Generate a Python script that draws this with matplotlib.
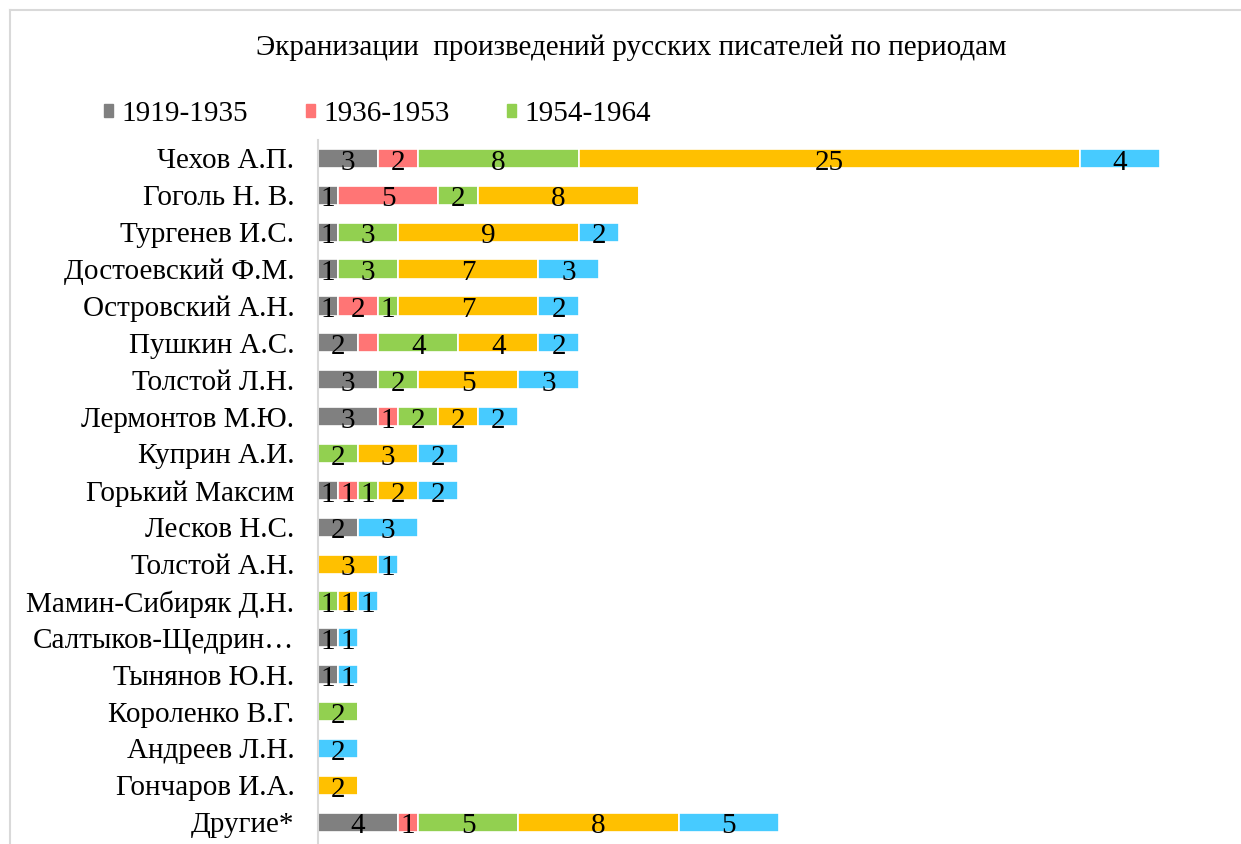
import numpy as np
import matplotlib
matplotlib.use("Agg")
import matplotlib.pyplot as plt
from matplotlib.lines import Line2D

plt.rcParams['font.family'] = ['Liberation Serif', 'DejaVu Serif']

title = "Экранизации  произведений русских писателей по периодам"

writers = ["Чехов А.П.", "Гоголь Н. В.", "Тургенев И.С.", "Достоевский Ф.М.",
           "Островский А.Н.", "Пушкин А.С.", "Толстой Л.Н.", "Лермонтов М.Ю.",
           "Куприн А.И.", "Горький Максим", "Лесков Н.С.", "Толстой А.Н.",
           "Мамин-Сибиряк Д.Н.", "Салтыков-Щедрин…", "Тынянов Ю.Н.",
           "Короленко В.Г.", "Андреев Л.Н.", "Гончаров И.А.", "Другие*"]

periods = ["1919-1935", "1936-1953", "1954-1964", "1965-", "1965+"]

p1919 = [3, 1, 1, 1, 1, 2, 3, 3, 0, 1, 2, 0, 0, 1, 1, 0, 0, 0, 4]
p1936 = [2, 5, 0, 0, 2, 1, 0, 1, 0, 1, 0, 0, 0, 0, 0, 0, 0, 0, 1]
p1954 = [8, 2, 3, 3, 1, 4, 2, 2, 2, 1, 0, 0, 1, 0, 0, 2, 0, 0, 5]
p4 = [25, 8, 9, 7, 7, 4, 5, 2, 3, 2, 0, 3, 1, 0, 0, 0, 0, 2, 8]
p5 = [4, 0, 2, 3, 2, 2, 3, 2, 2, 2, 3, 1, 1, 1, 1, 0, 2, 0, 5]

# label that Excel dropped (Пушкин, 1936-1953)
hidden = {(5, 1)}

colors = ["#808080", "#FF7575", "#92D050", "#FFC000", "#47CBFF"]

fig = plt.figure(figsize=(12.41, 8.44), dpi=100)
W, H = 1241, 844
ax = fig.add_axes([318 / W, 0, 902 / W, 1 - 140 / H])

y = np.arange(len(writers))
left = np.zeros(len(writers))
bars = []
for k, vals in enumerate([p1919, p1936, p1954, p4, p5]):
    vals = np.array(vals)
    b = ax.barh(y, vals, left=left, height=0.52, color=colors[k],
                edgecolor="white", linewidth=1.2, label=periods[k])
    for i, v in enumerate(vals):
        if v == 0 or (i, k) in hidden:
            continue
        ax.annotate(str(v), (left[i] + v / 2, i), xytext=(0, -3),
                    textcoords="offset points", ha="center", va="center",
                    fontsize=21, color="black")
    bars.append(b)
    left = left + vals

ax.set_xlim(0, 45)
ax.set_ylim(18.59, -0.5)
ax.set_yticks(y)
ax.set_yticklabels(writers, fontsize=21)
ax.tick_params(axis="y", length=0, pad=17)
ax.set_xticks([])
for s in ["top", "right", "bottom"]:
    ax.spines[s].set_visible(False)
ax.spines["left"].set_color("#d9d9d9")
ax.spines["left"].set_linewidth(1.5)

fig.text(631 / W, 1 - 48 / H, title, ha="center", va="center", fontsize=21)

# legend patches without the white bar edge
handles = [plt.Rectangle((0, 0), 1, 1, color=c) for c in colors[:3]]
fig.legend(handles=handles, labels=periods[:3], loc="center left",
           bbox_to_anchor=(78 / W, 1 - 114 / H), ncol=3, frameon=False,
           fontsize=21, handlelength=0.3, handleheight=0.3,
           handletextpad=0.3, columnspacing=1.97)

# chart frame (cropped on right and bottom)
fig.add_artist(Line2D([10 / W, 10 / W], [0, 1 - 10 / H], color="#d9d9d9",
                      linewidth=1.5, transform=fig.transFigure))
fig.add_artist(Line2D([10 / W, 1], [1 - 10 / H, 1 - 10 / H], color="#d9d9d9",
                      linewidth=1.5, transform=fig.transFigure))

fig.savefig("out.png", dpi=100)
